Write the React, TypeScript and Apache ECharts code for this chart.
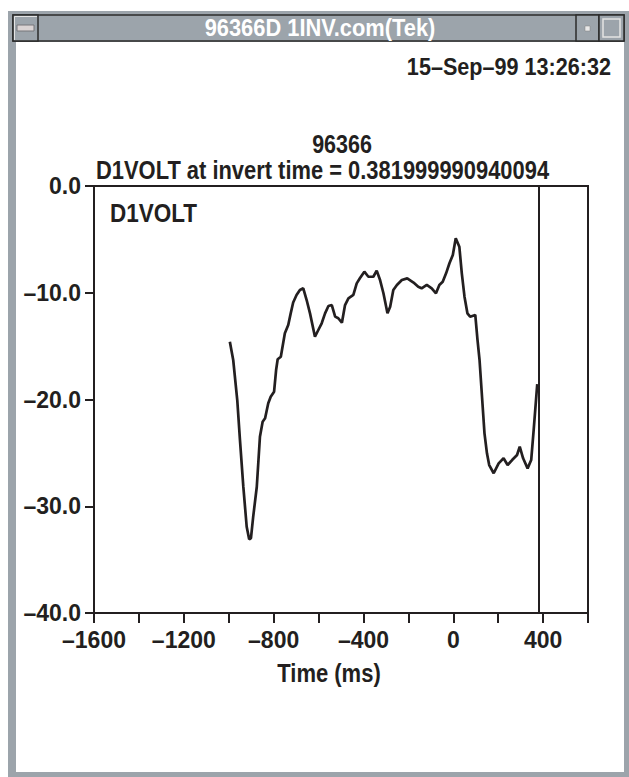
import React, { useEffect, useRef } from "react";
import * as echarts from "echarts";

const windowTitle = "96366D 1INV.com(Tek)";
const dateStamp = "15–Sep–99 13:26:32";
const chartTitle = "96366";
const chartSubtitle = "D1VOLT at invert time = 0.381999990940094";
const seriesName = "D1VOLT";
const xAxisTitle = "Time (ms)";
const invertTime = 382;

const timeMs = [
  -995, -980, -962, -950, -935, -920, -909, -901, -891, -875, -861, -849, -838, -824, -813, -798,
  -789, -782, -768, -750, -735, -724, -713, -698, -683, -668, -653, -638, -616, -601, -586, -571,
  -556, -541, -526, -512, -496, -482, -467, -445, -430, -416, -396, -378, -356, -341, -326, -311,
  -293, -281, -267, -251, -229, -205, -177, -156, -141, -118, -96, -77, -62, -47, -32, -17, -2,
  11, 27, 38, 50, 63, 75, 98, 108, 117, 128, 139, 150, 160, 180, 202, 224, 242, 262, 284, 296,
  311, 331, 347, 358, 374,
];
const volts = [
  -14.59, -16.3, -20.05, -23.79, -28.17, -31.92, -33.1, -32.98, -30.98, -28.17, -23.49, -22.08,
  -21.76, -20.36, -19.74, -19.27, -17.24, -16.23, -15.99, -13.8, -13.02, -11.93, -10.91, -10.21,
  -9.74, -9.58, -10.68, -11.93, -14.12, -13.49, -12.86, -11.93, -11.24, -11.15, -12.24, -12.39,
  -12.81, -11.15, -10.52, -10.21, -9.12, -8.65, -8.03, -8.5, -8.5, -7.93, -8.81, -10.05, -11.93,
  -11.31, -9.74, -9.27, -8.81, -8.65, -9.04, -9.43, -9.58, -9.27, -9.58, -10.05, -9.27, -8.97,
  -8.18, -7.24, -6.46, -4.9, -5.69, -8.18, -10.37, -11.93, -12.24, -12.08, -14.43, -16.3, -19.74,
  -23.17, -25.04, -26.14, -26.91, -25.98, -25.51, -26.14, -25.67, -25.2, -24.42, -25.51, -26.45,
  -25.67, -22.86, -18.55,
];

const FONT = "'Liberation Sans', Arial, sans-serif";
const INK = "#231f20";
const FRAME = "#9ca4ab";

const fmtNum = (v: number, digits: number) =>
  (v < 0 ? "–" : "") + Math.abs(v).toFixed(digits);

export default function App() {
  const ref = useRef<HTMLDivElement>(null);
  useEffect(() => {
    if (!ref.current) return;
    const chart = echarts.init(ref.current, undefined, { renderer: "svg" });
    const data = timeMs.map((t, i) => [t, volts[i]]);
    const txt = (
      text: string,
      x: number,
      y: number,
      align: string,
      size: number,
      sx: number,
      fill = INK
    ) => ({
      type: "text",
      x,
      y,
      scaleX: sx,
      z: 20,
      style: {
        text,
        fill,
        font: `bold ${size}px ${FONT}`,
        align,
        verticalAlign: "middle",
      },
    });
    chart.setOption({
      animation: false,
      grid: {
        left: 94,
        top: 186,
        width: 494,
        height: 427,
        show: true,
        borderColor: INK,
        borderWidth: 2,
        backgroundColor: "transparent",
      },
      xAxis: {
        type: "value",
        min: -1600,
        max: 600,
        interval: 200,
        axisLine: { show: true, onZero: false, lineStyle: { color: INK, width: 2 } },
        axisTick: { show: true, inside: false, length: 10, lineStyle: { color: INK, width: 2 } },
        splitLine: { show: false },
        axisLabel: {
          margin: 15,
          color: INK,
          fontFamily: FONT,
          fontWeight: "bold",
          fontSize: 23,
          formatter: (v: number) => (v % 400 === 0 ? fmtNum(v, 0) : ""),
        },
      },
      yAxis: {
        type: "value",
        min: -40,
        max: 0,
        interval: 10,
        axisLine: { show: true, onZero: false, lineStyle: { color: INK, width: 2 } },
        axisTick: { show: true, inside: false, length: 9, lineStyle: { color: INK, width: 2 } },
        splitLine: { show: false },
        axisLabel: {
          margin: 13,
          color: INK,
          fontFamily: FONT,
          fontWeight: "bold",
          fontSize: 23,
          formatter: (v: number) => fmtNum(v, 1),
        },
      },
      series: [
        {
          name: seriesName,
          type: "line",
          data,
          symbol: "none",
          lineStyle: { color: INK, width: 2.7 },
          markLine: {
            silent: true,
            symbol: ["none", "none"],
            label: { show: false },
            lineStyle: { color: INK, width: 2, type: "solid" },
            data: [{ xAxis: invertTime }],
          },
        },
      ],
      graphic: [
        { type: "rect", z: -10, shape: { x: 8, y: 11, width: 621, height: 766 }, style: { fill: FRAME } },
        { type: "rect", z: -9, shape: { x: 16, y: 42, width: 608, height: 730 }, style: { fill: "#ffffff" } },
        {
          type: "rect",
          z: -8,
          shape: { x: 13, y: 15, width: 611, height: 26 },
          style: { fill: FRAME, stroke: "#2b2b2b", lineWidth: 1.5 },
        },
        {
          type: "rect",
          z: -7,
          shape: { x: 13, y: 15, width: 25, height: 26 },
          style: { fill: FRAME, stroke: "#2b2b2b", lineWidth: 1.5 },
        },
        {
          type: "polyline",
          z: -6,
          shape: { points: [[14.5, 40], [14.5, 16.5], [37, 16.5]] },
          style: { stroke: "#e4e4e4", lineWidth: 1, fill: null },
        },
        {
          type: "rect",
          z: -6,
          shape: { x: 17, y: 25, width: 17, height: 6 },
          style: { fill: "#dad3d3", stroke: "#77777a", lineWidth: 1 },
        },
        {
          type: "rect",
          z: -7,
          shape: { x: 576, y: 15, width: 23, height: 26 },
          style: { fill: FRAME, stroke: "#2b2b2b", lineWidth: 1.5 },
        },
        {
          type: "rect",
          z: -6,
          shape: { x: 585, y: 26, width: 5, height: 5 },
          style: { fill: "#e8e8e8", stroke: "#808080", lineWidth: 0.5 },
        },
        {
          type: "rect",
          z: -7,
          shape: { x: 599, y: 15, width: 25, height: 26 },
          style: { fill: FRAME, stroke: "#2b2b2b", lineWidth: 1.5 },
        },
        {
          type: "rect",
          z: -6,
          shape: { x: 603, y: 19, width: 17, height: 18 },
          style: { fill: FRAME, stroke: "#e4e4e4", lineWidth: 1.5 },
        },
        txt(windowTitle, 320, 28, "center", 23, 0.95, "#ffffff"),
        txt(dateStamp, 611, 67, "right", 24, 0.9),
        txt(chartTitle, 342, 144, "center", 25, 0.86),
        txt(chartSubtitle, 96, 170, "left", 25, 0.876),
        txt(seriesName, 110, 213, "left", 25, 0.9),
        txt(xAxisTitle, 329, 674, "center", 25, 0.88),
      ],
    });
    return () => chart.dispose();
  }, []);
  return (
    <div
      ref={ref}
      style={{ position: "absolute", left: 0, top: 0, width: 629, height: 777, background: "#ffffff" }}
    />
  );
}
